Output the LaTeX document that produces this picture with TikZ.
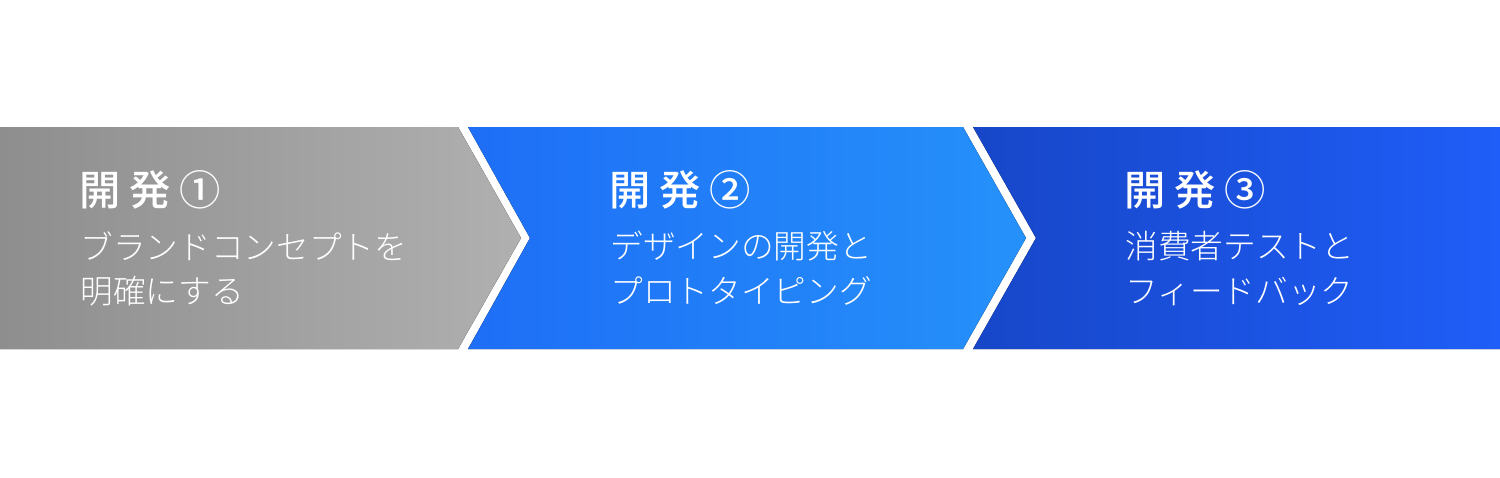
\documentclass[tikz,border=0pt]{standalone}
\usepackage{fontspec}
\usepackage{xcolor}
\usepackage{tikz}
\usetikzlibrary{positioning,calc}
\newfontfamily\jpmedium{Noto Sans CJK JP Medium}
\newfontfamily\jplight{Noto Sans CJK JP Light}
\definecolor{grayL}{HTML}{8E8E8E}
\definecolor{grayR}{HTML}{B0B0B0}
\definecolor{blueL}{HTML}{1E6EF6}
\definecolor{blueR}{HTML}{2591FA}
\definecolor{navyL}{HTML}{1746C8}
\definecolor{navyR}{HTML}{1F5EF8}

\begin{document}
\begin{tikzpicture}[x=0.02cm, y=-0.02cm,
    steptitle/.style={anchor=base west, inner sep=0, text=white, font=\jpmedium\fontsize{23.5}{27}\selectfont},
    stepbody/.style={anchor=north west, inner sep=0, text=white, align=left, font=\jplight\fontsize{18.6}{25.5}\selectfont}]
    \useasboundingbox (0,0) rectangle (1500,477);

    % Stage 1
    \fill[left color=grayL, right color=grayR] (0,127) -- (458,127) -- (521,238) -- (458,349) -- (0,349) -- cycle;
    \node[steptitle] (title1) at (79,205) {開\hspace{5pt}発\hspace{5pt}①};
    \node[stepbody] (body1) at (80,231) {ブランドコンセプトを\\明確にする};

    % Stage 2
    \fill[left color=blueL, right color=blueR] (468,127) -- (963,127) -- (1026,238) -- (963,349) -- (468,349) -- (530,238) -- cycle;
    \node[steptitle] (title2) at (609,205) {開\hspace{5pt}発\hspace{5pt}②};
    \node[stepbody] (body2) at (610,231) {デザインの開発と\\プロトタイピング};

    % Stage 3
    \fill[left color=navyL, right color=navyR] (973,127) -- (1500,127) -- (1500,349) -- (973,349) -- (1036,238) -- cycle;
    \node[steptitle] (title3) at (1124,205) {開\hspace{5pt}発\hspace{5pt}③};
    \node[stepbody] (body3) at (1125,231) {消費者テストと\\フィードバック};
\end{tikzpicture}
\end{document}
